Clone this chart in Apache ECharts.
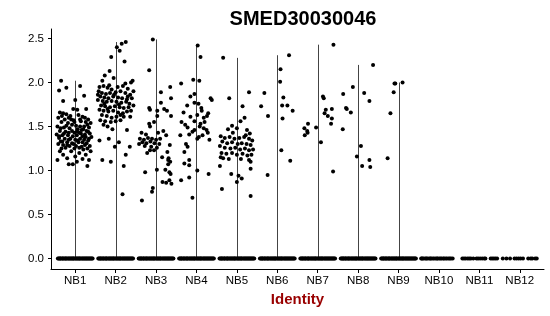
<!DOCTYPE html>
<html>
<head>
<meta charset="utf-8">
<script src="https://cdn.jsdelivr.net/npm/echarts@6/dist/echarts.min.js"></script>
<style>html,body{margin:0;padding:0;background:#fff}#c{width:550px;height:316px}</style>
</head>
<body>
<div id="c"></div>
<script>
const chartTitle = 'SMED30030046';
const xTitle = 'Identity';
const categories = ['NB1','NB2','NB3','NB4','NB5','NB6','NB7','NB8','NB9','NB10','NB11','NB12'];
const yTicks = [0, 0.5, 1.0, 1.5, 2.0, 2.5];

// non-zero expression points per identity: [jitter (category units), value]
const NB1 = [[-0.35,2.02],[-0.40,1.91],[-0.22,1.94],[0.12,1.96],[-0.30,1.79],[0.00,1.80],[0.22,1.85],[0.27,1.70],[-0.05,1.70],[0.05,1.69],
[-0.38,1.66],[-0.30,1.65],[-0.22,1.64],[-0.12,1.62],[0.08,1.63],[0.18,1.61],[0.32,1.58],[-0.42,1.60],[-0.26,1.58],[-0.04,1.57],
[0.14,1.56],[0.26,1.55],[0.38,1.54],[-0.34,1.55],[-0.18,1.54],[-0.08,1.52],[0.02,1.51],[0.22,1.50],[0.34,1.49],[-0.44,1.50],
[-0.28,1.49],[-0.14,1.48],[0.06,1.47],[0.16,1.46],[0.28,1.45],[-0.38,1.45],[-0.24,1.44],[-0.02,1.43],[0.10,1.43],[0.36,1.42],
[-0.46,1.41],[-0.32,1.40],[-0.18,1.40],[-0.06,1.39],[0.04,1.40],[0.18,1.39],[0.26,1.38],[0.40,1.38],[-0.40,1.37],[-0.26,1.36],
[-0.12,1.36],[0.00,1.35],[0.12,1.36],[0.22,1.35],[0.32,1.34],[-0.36,1.33],[-0.20,1.32],[-0.08,1.31],[0.08,1.32],[0.28,1.31],
[-0.42,1.30],[-0.30,1.29],[-0.14,1.28],[0.02,1.28],[0.16,1.27],[0.36,1.28],[-0.24,1.26],[-0.02,1.25],[0.20,1.24],[0.30,1.25],
[-0.38,1.22],[-0.10,1.22],[0.10,1.20],[-0.30,1.18],[0.26,1.18],[0.00,1.16],[-0.20,1.14],[0.18,1.13],[-0.44,1.12],[0.34,1.12],
[-0.16,1.07],[-0.06,1.07],[0.30,1.05],[0.04,1.10],
[-0.33,1.62],[-0.16,1.60],[0.24,1.60],[0.12,1.58],[-0.02,1.55],[0.30,1.52],[-0.22,1.51],[0.12,1.50],[-0.36,1.48],[0.20,1.47],
[-0.08,1.45],[0.32,1.44],[-0.16,1.43],[0.14,1.42],[-0.28,1.42],[0.24,1.41],[-0.40,1.39],[0.34,1.36],[-0.16,1.35],[0.06,1.34],
[-0.32,1.33],[0.18,1.32],[-0.04,1.30],[0.24,1.29],[-0.20,1.29],[0.10,1.26],[-0.34,1.25],[0.38,1.22],[0.04,1.44],[-0.10,1.58]];
const NB2 = [[0.25,2.46],[0.15,2.44],[0.03,2.40],[0.10,2.36],[-0.11,2.29],[0.22,2.24],[-0.15,2.13],[-0.27,2.08],[-0.33,2.02],[0.42,2.02],[0.38,2.00],[-0.05,2.05],
[-0.40,1.95],[-0.30,1.96],[-0.20,1.94],[-0.10,1.92],[0.05,1.95],[0.18,1.96],[0.30,1.93],[0.44,1.90],
[-0.42,1.90],[-0.34,1.88],[-0.24,1.87],[-0.14,1.88],[0.00,1.89],[0.12,1.90],[0.24,1.88],[0.36,1.86],
[-0.38,1.84],[-0.28,1.83],[-0.18,1.82],[-0.06,1.84],[0.06,1.83],[0.16,1.82],[0.28,1.81],[0.40,1.82],
[-0.44,1.80],[-0.32,1.79],[-0.22,1.78],[-0.10,1.79],[0.02,1.78],[0.14,1.77],[0.26,1.78],[0.34,1.76],
[-0.36,1.74],[-0.26,1.73],[-0.14,1.72],[-0.02,1.73],[0.10,1.72],[0.20,1.71],[0.32,1.72],[0.44,1.74],
[-0.40,1.69],[-0.30,1.68],[-0.18,1.67],[-0.06,1.68],[0.06,1.66],[0.18,1.65],[0.28,1.67],
[-0.34,1.63],[-0.22,1.62],[-0.10,1.60],[0.02,1.61],[0.20,1.61],[0.36,1.61],
[-0.38,1.57],[-0.26,1.56],[-0.12,1.55],[0.00,1.56],[0.12,1.57],
[-0.30,1.52],[-0.20,1.50],[0.28,1.46],[-0.08,1.47],
[-0.40,1.34],[-0.17,1.36],[0.08,1.32],[0.35,1.27],[-0.02,1.27],[0.25,1.18],[-0.33,1.12],[0.20,1.05],[-0.12,1.10],[0.17,0.73],
[-0.16,1.97],[0.24,1.99],[-0.04,1.86],[0.30,1.84],[-0.28,1.76],[0.08,1.75],[-0.20,1.70],[0.38,1.68],[0.12,1.63],[-0.44,1.86]];
const NB3 = [[-0.08,2.49],[-0.17,2.14],[0.35,1.95],[0.12,1.89],[0.37,1.82],[0.12,1.77],[-0.17,1.71],[-0.15,1.69],[0.03,1.68],[0.27,1.68],[0.37,1.62],[0.03,1.62],[-0.17,1.53],[-0.15,1.50],
[-0.36,1.43],[-0.25,1.41],[0.05,1.43],[0.25,1.40],[-0.40,1.36],[-0.30,1.35],[-0.20,1.37],[-0.10,1.36],[0.00,1.35],[0.10,1.36],[-0.34,1.32],[-0.24,1.31],[-0.14,1.33],[-0.04,1.31],[0.08,1.30],[-0.42,1.30],[-0.28,1.28],[-0.12,1.27],[0.02,1.26],[0.34,1.29],
[-0.05,1.23],[-0.15,1.23],[0.28,1.21],[0.31,1.14],[0.35,1.10],[0.30,1.12],[0.02,1.01],[-0.27,0.98],[0.23,1.01],[0.33,0.98],[0.36,0.96],[0.16,0.87],[0.25,0.86],[0.38,0.85],[0.33,0.89],[-0.08,0.80],[-0.10,0.76],[-0.35,0.66],[0.30,1.07],
[0.20,1.70],[-0.05,1.55],[0.18,1.45],[-0.22,1.20],[0.15,1.15]];
const NB4 = [[0.03,2.42],[0.10,2.29],[-0.38,1.99],[-0.08,2.03],[0.07,2.02],[-0.15,1.84],[-0.05,1.87],[0.35,1.82],[-0.23,1.74],[-0.05,1.77],[0.05,1.76],[0.12,1.71],[0.13,1.68],[0.29,1.65],[0.26,1.62],
[-0.15,1.61],[0.02,1.63],[0.18,1.60],[-0.37,1.55],[0.20,1.55],[-0.05,1.56],[0.10,1.53],[-0.22,1.49],[0.18,1.48],[-0.05,1.46],[-0.10,1.44],[0.28,1.43],[-0.40,1.40],[-0.18,1.41],[0.02,1.36],[0.06,1.38],[0.15,1.40],[0.25,1.46],[-0.28,1.52],[0.08,1.50],
[-0.26,1.30],[-0.22,1.27],[-0.30,1.21],[-0.18,1.12],[-0.30,1.08],[-0.18,1.06],[0.02,1.00],[0.30,0.96],[-0.38,0.89],[-0.18,0.92],[-0.10,0.69],[0.38,1.80],[-0.32,1.66],[0.32,1.35]];
const NB5 = [[-0.34,2.28],[0.30,1.89],[-0.19,1.82],[0.14,1.73],[0.19,1.60],[0.09,1.56],[-0.12,1.51],[0.00,1.48],[-0.22,1.47],[0.25,1.46],[0.32,1.42],
[-0.40,1.39],[-0.30,1.37],[-0.18,1.38],[-0.06,1.36],[0.06,1.37],[0.18,1.38],[0.30,1.36],[0.38,1.34],
[-0.36,1.33],[-0.24,1.31],[-0.12,1.32],[0.02,1.30],[0.12,1.31],[0.24,1.30],[0.34,1.29],
[-0.42,1.28],[-0.30,1.26],[-0.16,1.25],[-0.04,1.26],[0.08,1.24],[0.20,1.25],[0.30,1.23],[0.40,1.24],
[-0.38,1.20],[-0.26,1.19],[-0.12,1.20],[0.00,1.18],[0.14,1.19],[0.26,1.17],[0.36,1.18],
[-0.40,1.15],[-0.34,1.14],[-0.20,1.13],[0.10,1.13],[0.30,1.12],
[-0.42,1.05],[0.34,1.10],[0.34,1.02],[-0.37,0.79],[-0.14,0.96],[0.00,0.87],[0.04,0.94],[0.12,0.91],[0.34,0.71],[0.22,1.40],[-0.10,1.43]];
const NB6 = [[0.29,2.31],[0.08,2.15],[0.07,2.01],[-0.32,1.88],[0.15,1.83],[-0.40,1.73],[0.12,1.74],[0.25,1.74],[0.38,1.68],[-0.23,1.62],[0.13,1.59],[0.10,1.23],[0.32,1.11],[-0.24,0.95]];
const NB7 = [[0.39,2.43],[-0.24,1.53],[-0.33,1.48],[-0.26,1.45],[-0.25,1.43],[-0.32,1.40],[-0.04,1.49],[0.13,1.84],[0.15,1.82],[0.20,1.69],[0.17,1.65],[0.25,1.62],[0.35,1.70],[0.35,1.59],[0.33,1.53],[0.08,1.32],[0.38,0.99]];
const NB8 = [[0.37,2.20],[-0.13,1.95],[-0.37,1.87],[0.15,1.88],[0.28,1.79],[-0.30,1.71],[-0.28,1.70],[-0.18,1.66],[-0.38,1.47],[0.07,1.28],[-0.03,1.16],[0.10,1.05],[0.28,1.12],[0.30,1.04]];
const NB9 = [[-0.10,1.99],[-0.08,1.99],[0.10,2.00],[-0.12,1.89],[-0.20,1.65],[-0.27,1.14]];
const NB10 = [], NB11 = [], NB12 = [];

// jitter positions of the cells with zero expression
const zeroDense = [-0.43,-0.41,-0.39,-0.37,-0.36,-0.33,-0.31,-0.30,-0.27,-0.25,-0.23,-0.22,-0.19,-0.17,-0.15,-0.13,-0.11,-0.09,-0.07,-0.05,-0.04,-0.01,0.01,0.03,0.05,0.07,0.09,0.11,0.12,0.15,0.17,0.19,0.21,0.23,0.25,0.27,0.29,0.31,0.33,0.35,0.37,0.39,0.41,0.43];
const zeroNB10 = [-0.44,-0.42,-0.40,-0.37,-0.33,-0.31,-0.28,-0.24,-0.21,-0.19,-0.15,-0.12,-0.08,-0.05,-0.03,0.01,0.04,0.07,0.11,0.13,0.17,0.20,0.24,0.27,0.30,0.34];
const zeroNB11 = [-0.42,-0.38,-0.34,-0.29,-0.25,-0.21,-0.15,-0.07,-0.03,0.02,0.07,0.12,0.15,0.28,0.32,0.36,0.40,0.44];
const zeroNB12 = [-0.42,-0.33,-0.24,-0.13,-0.08,-0.03,0.02,0.08,0.21,0.27,0.31,0.38,0.42];

const groups = [NB1,NB2,NB3,NB4,NB5,NB6,NB7,NB8,NB9,NB10,NB11,NB12];
const zeros = [zeroDense,zeroDense,zeroDense,zeroDense,zeroDense,zeroDense,zeroDense,zeroDense,zeroDense,zeroNB10,zeroNB11,zeroNB12];

const points = [];
const violins = [];
groups.forEach((g, i) => {
  zeros[i].forEach(j => points.push([i + 1 + j, 0]));
  g.forEach(p => points.push([i + 1 + p[0], p[1]]));
  if (g.length) violins.push([i + 1, Math.max.apply(null, g.map(p => p[1]))]);
});

const font = 'Liberation Sans, Arial, sans-serif';
const chart = echarts.init(document.getElementById('c'), null, {renderer: 'canvas'});
chart.setOption({
  animation: false,
  backgroundColor: '#fff',
  title: {
    text: chartTitle, left: 298, top: 4, textAlign: 'center',
    textStyle: {fontFamily: font, fontSize: 20, fontWeight: 'bold', color: '#000'}
  },
  grid: {left: 51, right: 6, top: 29, bottom: 47},
  xAxis: {
    type: 'value', min: 0.4, max: 12.6,
    name: xTitle, nameLocation: 'middle', nameGap: 23,
    nameTextStyle: {fontFamily: font, fontSize: 15, fontWeight: 'bold', color: '#990000'},
    splitLine: {show: false},
    axisLine: {show: true, onZero: false, lineStyle: {color: '#000', width: 1}},
    axisTick: {show: true, length: 4, customValues: categories.map((c, i) => i + 1), lineStyle: {color: '#000'}},
    axisLabel: {customValues: categories.map((c, i) => i + 1), formatter: v => categories[Math.round(v) - 1],
      fontFamily: font, fontSize: 11.5, color: '#000', margin: 6}
  },
  yAxis: {
    type: 'value', min: -0.119, max: 2.608,
    splitLine: {show: false},
    axisLine: {show: true, onZero: false, lineStyle: {color: '#000', width: 1}},
    axisTick: {show: true, length: 3, customValues: yTicks, lineStyle: {color: '#000'}},
    axisLabel: {customValues: yTicks, formatter: v => v.toFixed(1),
      fontFamily: font, fontSize: 11.5, color: '#000', margin: 7}
  },
  series: [
    {
      type: 'custom', z: 1, data: violins,
      renderItem: (params, api) => {
        const p0 = api.coord([api.value(0), 0]);
        const p1 = api.coord([api.value(0), api.value(1)]);
        const x = Math.round(p0[0]) + 0.5;
        return {type: 'line', shape: {x1: x, y1: p0[1], x2: x, y2: p1[1]},
          style: {stroke: '#444', lineWidth: 1}};
      }
    },
    {
      type: 'scatter', z: 2, data: points, symbolSize: 4,
      itemStyle: {color: '#000', opacity: 1}
    }
  ]
});
</script>
</body>
</html>
